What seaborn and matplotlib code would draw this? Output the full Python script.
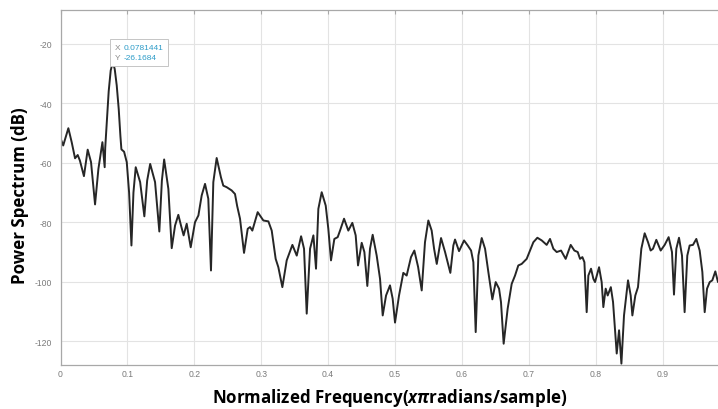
import matplotlib
matplotlib.use("Agg")
import matplotlib.pyplot as plt
from matplotlib.offsetbox import TextArea, HPacker, VPacker, AnnotationBbox
import seaborn as sns
import pandas as pd

# ─── Data ─────────────────────────────────────────────────────────────
freq = [
    0.000, 0.004, 0.0117, 0.0167, 0.0217, 0.0257, 0.029, 0.035, 0.0406, 0.0456,
    0.0516, 0.0566, 0.0626, 0.0660, 0.0668, 0.0690, 0.0720, 0.0750, 0.0781, 0.0810,
    0.0840, 0.0870, 0.0895, 0.0910, 0.095, 0.099, 0.1025, 0.106, 0.109, 0.1124,
    0.119, 0.1253, 0.1295, 0.134, 0.1413, 0.1477, 0.1515, 0.1549, 0.1612, 0.1662,
    0.1712, 0.1761, 0.1801, 0.184, 0.1886, 0.1946, 0.201, 0.2061, 0.211, 0.216,
    0.2209, 0.2249, 0.2284, 0.2334, 0.2398, 0.2433, 0.2483, 0.2558, 0.2608, 0.2640,
    0.2683, 0.2743, 0.2798, 0.2833, 0.2867, 0.2947, 0.3032, 0.3107, 0.3157, 0.3216,
    0.3256, 0.3316, 0.3381, 0.3466, 0.3531, 0.3596, 0.364, 0.368, 0.373, 0.378,
    0.3819, 0.3854, 0.3904, 0.3964, 0.4003, 0.4043, 0.4093, 0.4143, 0.4178, 0.4238,
    0.4302, 0.4362, 0.4412, 0.4447, 0.4502, 0.4542, 0.4586, 0.4626, 0.4666, 0.4726,
    0.4776, 0.4816, 0.4866, 0.4925, 0.4965, 0.5000, 0.506, 0.5124, 0.5174, 0.5239,
    0.5289, 0.5345, 0.5399, 0.5448, 0.5498, 0.5548, 0.5584, 0.5624, 0.5688, 0.5748,
    0.5798, 0.5827, 0.5872, 0.5897, 0.5957, 0.6032, 0.6087, 0.6137, 0.6171, 0.6206,
    0.6246, 0.6296, 0.6346, 0.6395, 0.6455, 0.6505, 0.6555, 0.6584, 0.6624, 0.6684,
    0.6744, 0.6794, 0.6843, 0.6893, 0.6968, 0.7018, 0.7068, 0.7128, 0.7193, 0.7267,
    0.7317, 0.7367, 0.7417, 0.7482, 0.7551, 0.7626, 0.7681, 0.7731, 0.7766, 0.7801,
    0.7831, 0.7865, 0.789, 0.793, 0.7965, 0.799, 0.805, 0.8089, 0.8114, 0.8149,
    0.8179, 0.8226, 0.8259, 0.8314, 0.8349, 0.8384, 0.8423, 0.8483, 0.8523, 0.8548,
    0.8592, 0.8632, 0.8682, 0.8732, 0.8782, 0.8821, 0.8856, 0.8906, 0.8971, 0.9031,
    0.909, 0.914, 0.917, 0.9205, 0.9245, 0.929, 0.9329, 0.9369, 0.9404, 0.9454,
    0.9504, 0.9554, 0.9594, 0.9629, 0.9664, 0.9704, 0.9743, 0.9788, 0.9828,
]
power_db = [
    -51.8, -54.2, -48.4, -53.1, -58.5, -57.4, -59.3, -64.5, -55.6, -59.8,
    -74.0, -62.1, -53.1, -61.5, -55.0, -47.0, -36.0, -29.0, -26.17, -28.5,
    -34.0, -42.0, -51.0, -55.5, -56.3, -59.8, -70.0, -87.8, -70.0, -61.5,
    -66.5, -78.0, -66.0, -60.4, -66.5, -83.1, -66.0, -58.9, -68.8, -88.7,
    -81.1, -77.5, -81.1, -84.4, -80.5, -88.4, -80.0, -77.7, -71.0, -67.1,
    -72.1, -96.2, -66.5, -58.4, -64.9, -67.7, -68.2, -69.3, -70.5, -74.5,
    -78.8, -90.3, -82.2, -81.6, -82.8, -76.6, -79.4, -79.7, -82.8, -92.3,
    -95.1, -101.8, -92.8, -87.6, -91.2, -84.7, -88.9, -110.7, -88.9, -84.4,
    -95.6, -75.5, -69.9, -74.4, -82.2, -92.8, -85.6, -85.0, -82.8, -78.8,
    -82.8, -80.2, -84.4, -94.5, -86.9, -90.0, -101.4, -88.9, -84.2, -91.2,
    -99.0, -111.3, -104.6, -101.2, -105.7, -113.7, -104.6, -97.0, -97.9, -91.7,
    -89.5, -95.0, -102.9, -86.7, -79.4, -82.8, -88.9, -94.0, -85.3, -90.0,
    -94.5, -97.0, -87.8, -85.8, -89.7, -86.1, -87.8, -89.5, -93.4, -116.9,
    -91.2, -85.3, -88.9, -96.7, -105.9, -100.1, -102.3, -106.8, -120.8, -109.0,
    -100.7, -97.9, -94.5, -94.0, -92.3, -89.5, -86.7, -85.2, -86.1, -87.6,
    -85.6, -88.9, -90.0, -89.5, -92.3, -87.6, -89.5, -90.0, -92.3, -91.7,
    -93.4, -110.2, -97.9, -95.6, -99.0, -100.1, -95.1, -100.1, -108.5, -102.3,
    -104.6, -101.8, -106.8, -124.1, -116.3, -127.5, -111.3, -99.5, -104.6, -111.3,
    -104.6, -101.8, -88.9, -83.7, -86.7, -89.5, -88.9, -85.9, -89.5, -87.6,
    -85.0, -90.0, -104.3, -88.9, -85.2, -91.2, -110.2, -91.2, -87.8, -87.6,
    -85.6, -89.5, -96.7, -110.2, -102.3, -100.1, -99.5, -96.5, -100.1,
]

x_ticks = [0, 0.1, 0.2, 0.3, 0.4, 0.5, 0.6, 0.7, 0.8, 0.9]
x_tick_labels = ["0", "0.1", "0.2", "0.3", "0.4", "0.5", "0.6", "0.7", "0.8", "0.9"]
y_ticks = [-120, -100, -80, -60, -40, -20]
y_tick_labels = ["-120", "-100", "-80", "-60", "-40", "-20"]

tip_x = 0.0781441
tip_y = -26.1684

# ─── Style ────────────────────────────────────────────────────────────
sns.set_theme(style="white")
plt.rcParams["font.family"] = ["Liberation Sans", "DejaVu Sans"]
plt.rcParams["mathtext.fontset"] = "custom"
plt.rcParams["mathtext.it"] = "Open Sans:bold:italic"
plt.rcParams["mathtext.rm"] = "Open Sans:bold"

AXIS_GRAY = "#a8a8a8"
TICK_GRAY = "#7a7a7a"
TIP_BLUE = "#2e9cc8"

df = pd.DataFrame({"freq": freq, "power": power_db})

fig = plt.figure(figsize=(7.18, 4.10), dpi=100)
ax = fig.add_axes([0.0843, 0.107, 0.9157, 0.866])

sns.lineplot(data=df, x="freq", y="power", ax=ax, color="#262626",
             linewidth=1.4, sort=False, estimator=None)

ax.set_xlim(0, 0.9828)
ax.set_ylim(-128, -8.7)
ax.set_xticks(x_ticks)
ax.set_xticklabels(x_tick_labels)
ax.set_yticks(y_ticks)
ax.set_yticklabels(y_tick_labels)

ax.grid(True, color="#e3e3e3", linewidth=0.8)
ax.set_axisbelow(True)
for side in ["left", "bottom", "top"]:
    ax.spines[side].set_color(AXIS_GRAY)
    ax.spines[side].set_linewidth(0.9)
ax.spines["right"].set_visible(False)

ax.tick_params(axis="both", which="major", direction="in", length=3,
               width=0.8, color=AXIS_GRAY, labelsize=6.2, labelcolor=TICK_GRAY,
               top=True, right=False)
ax.tick_params(axis="y", pad=6)
ax.tick_params(axis="x", pad=3)

ax.set_ylabel("Power Spectrum (dB)", fontsize=12.2, fontweight="bold",
              family="Open Sans", color="black", va="center")
ax.yaxis.set_label_coords(-0.0616, 0.479)
ax.set_xlabel(r"Normalized Frequency($x\pi$radians/sample)", fontsize=12.2,
              fontweight="bold", family="Open Sans", color="black", va="center")
ax.xaxis.set_label_coords(0.501, -0.090)

# data tip box
def tip_row(letter, value):
    return HPacker(children=[
        TextArea(letter, textprops=dict(color="#8a8a8a", fontsize=6)),
        TextArea(value, textprops=dict(color=TIP_BLUE, fontsize=6)),
    ], align="baseline", pad=0, sep=2)

tip_box = VPacker(children=[tip_row("X", f"{tip_x:.7f}"),
                            tip_row("Y", f"{tip_y:.4f}")],
                  align="left", pad=0, sep=2.5)
ab = AnnotationBbox(tip_box, (tip_x, tip_y), xybox=(1.5, 0.5),
                    xycoords="data", boxcoords="offset points",
                    box_alignment=(0, 0), frameon=True, pad=0.4,
                    bboxprops=dict(facecolor="white", edgecolor="#c5c5c5",
                                   linewidth=0.7, boxstyle="square"))
ax.add_artist(ab)

fig.savefig("out.png", dpi=100)
plt.close(fig)
